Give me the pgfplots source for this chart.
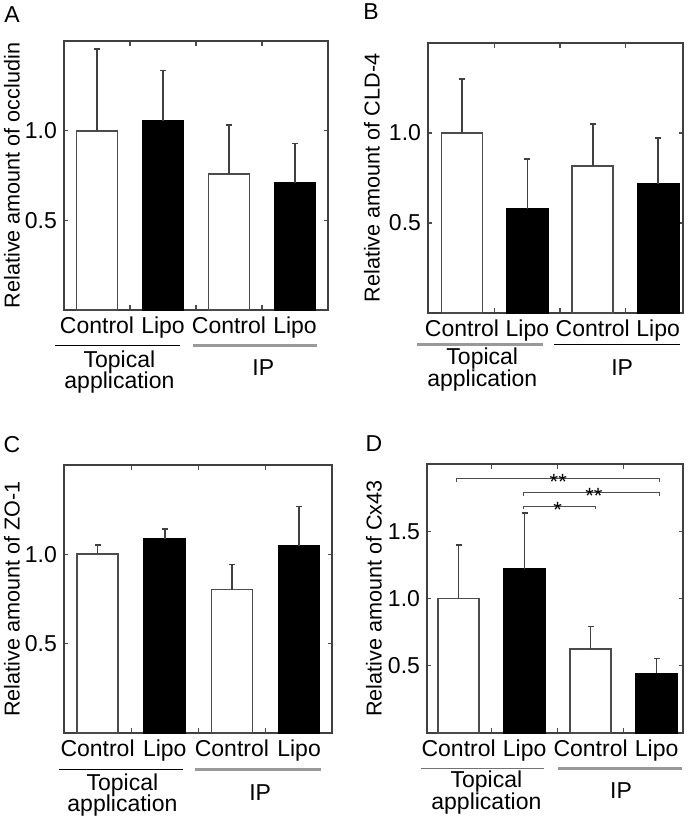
\documentclass[border=0pt]{standalone}
\usepackage{fontspec}
\setmainfont{Liberation Sans}
\usepackage{pgfplots}
\pgfplotsset{compat=1.18}

\pgfplotsset{
  panel/.style={
    scale only axis, anchor=south west,
    ybar, bar shift=0pt, bar width=20.5pt,
    ymin=0, ymax=1.5,
    ytick={0.5,1.0},
    xtick={0,1,2,3},
    xticklabels={Control,Lipo,Control,Lipo},
    minor xtick={0.5,1.5,2.5},
    major x tick style={draw=none},
    tick align=inside,
    major tick length=2pt, minor tick length=2.5pt,
    tick style={black!70, line width=0.6pt},
    axis line style={black!75, line width=0.8pt},
    tick label style={font=\fontsize{11.5}{13}\selectfont},
    y tick label style={/pgf/number format/.cd, fixed, fixed zerofill, precision=1, assume math mode=true, /tikz/.cd},
    label style={font=\fontsize{10.8}{13}\selectfont},
    clip=false,
  },
  ctrl/.style={fill=white, draw=black!70, line width=0.9pt,
    error bars/.cd, y dir=plus, y explicit,
    error bar style={black!75, line width=0.8pt},
    error mark options={rotate=90, black!75, line width=0.8pt, mark size=1.5pt}},
  lipo/.style={fill=black, draw=black, line width=0.9pt,
    error bars/.cd, y dir=plus, y explicit,
    error bar style={black!75, line width=0.8pt},
    error mark options={rotate=90, black!75, line width=0.8pt, mark size=1.5pt}},
}
\tikzset{grp/.style={font=\fontsize{11.5}{10.75}\selectfont, align=center, inner sep=0pt},
  star/.style={font=\fontsize{11}{11}\selectfont, anchor=base, inner sep=0pt}}

\begin{document}
\begin{tikzpicture}
\path[use as bounding box] (0,0) rectangle (346.5pt,412.5pt);

% A
\begin{axis}[panel, at={(32pt,257.5pt)}, width=132pt, height=134.5pt,
  xmin=-0.5, xmax=3.5,
  ylabel={Relative amount of occludin},
  ylabel style={at={([xshift=-26pt]axis description cs:0,0.5)}, anchor=center}]
\addplot[ctrl] coordinates {(0,1.000) +- (0,0.456) (2,0.758) +- (0,0.274)};
\addplot[lipo] coordinates {(1,1.056) +- (0,0.280) (3,0.707) +- (0,0.222)};
\draw[black, line width=0.5pt] ([yshift=-17.8pt]axis cs:-0.64,0) -- ([yshift=-17.8pt]axis cs:1.26,0);
\draw[black!40, line width=1.5pt] ([yshift=-17.8pt]axis cs:1.45,0) -- ([yshift=-17.8pt]axis cs:3.33,0);
\node[grp] at ([yshift=-31pt]axis cs:0.34,0) {Topical\\application};
\node[grp] at ([yshift=-29pt]axis cs:2.52,0) {IP};
\end{axis}

% B
\begin{axis}[panel, at={(214pt,256pt)}, width=127.5pt, height=135pt,
  xmin=-0.52, xmax=3.38,
  ylabel={Relative amount of CLD-4},
  ylabel style={at={([xshift=-28pt]axis description cs:0,0.5)}, anchor=center}]
\addplot[ctrl] coordinates {(0,1.000) +- (0,0.300) (2,0.815) +- (0,0.235)};
\addplot[lipo] coordinates {(1,0.578) +- (0,0.278) (3,0.717) +- (0,0.255)};
\draw[black!40, line width=1.5pt] ([yshift=-15.8pt]axis cs:-0.69,0) -- ([yshift=-15.8pt]axis cs:1.24,0);
\draw[black, line width=0.5pt] ([yshift=-15.8pt]axis cs:1.41,0) -- ([yshift=-15.8pt]axis cs:3.34,0);
\node[grp] at ([yshift=-28.3pt]axis cs:0.31,0) {Topical\\application};
\node[grp] at ([yshift=-27.3pt]axis cs:2.45,0) {IP};
\end{axis}

% C
\begin{axis}[panel, at={(32pt,46pt)}, width=134pt, height=134pt,
  xmin=-0.5, xmax=3.49,
  ylabel={Relative amount of ZO-1},
  ylabel style={at={([xshift=-26pt]axis description cs:0,0.5)}, anchor=center}]
\addplot[ctrl] coordinates {(0,1.000) +- (0,0.052) (2,0.803) +- (0,0.141)};
\addplot[lipo] coordinates {(1,1.084) +- (0,0.058) (3,1.048) +- (0,0.219)};
\draw[black, line width=0.5pt] ([yshift=-18pt]axis cs:-0.58,0) -- ([yshift=-18pt]axis cs:1.27,0);
\draw[black!40, line width=1.5pt] ([yshift=-18pt]axis cs:1.45,0) -- ([yshift=-18pt]axis cs:3.32,0);
\node[grp] at ([yshift=-31pt]axis cs:0.37,0) {Topical\\application};
\node[grp] at ([yshift=-29.9pt]axis cs:2.42,0) {IP};
\end{axis}

% D
\begin{axis}[panel, at={(213.5pt,46pt)}, width=128pt, height=134.5pt,
  xmin=-0.48, xmax=3.4, ymax=2.0,
  ytick={0.5,1.0,1.5},
  ylabel={Relative amount of Cx43},
  ylabel style={at={([xshift=-26.5pt]axis description cs:0,0.5)}, anchor=center}]
\addplot[ctrl] coordinates {(0,1.000) +- (0,0.396) (2,0.622) +- (0,0.169)};
\addplot[lipo] coordinates {(1,1.222) +- (0,0.415) (3,0.443) +- (0,0.112)};
\draw[black!70, line width=0.5pt] (axis cs:-0.03,1.869) -- (axis cs:-0.03,1.894) -- (axis cs:3.05,1.894) -- (axis cs:3.05,1.869);
\draw[black!70, line width=0.5pt] (axis cs:0.98,1.762) -- (axis cs:0.98,1.787) -- (axis cs:3.05,1.787) -- (axis cs:3.05,1.762);
\draw[black!70, line width=0.5pt] (axis cs:0.98,1.662) -- (axis cs:0.98,1.687) -- (axis cs:2.08,1.687) -- (axis cs:2.08,1.662);
\node[star] at ([yshift=-5.5pt]axis cs:1.51,1.894) {**};
\node[star] at ([yshift=-5.5pt]axis cs:2.05,1.787) {**};
\node[star] at ([yshift=-5.5pt]axis cs:1.50,1.687) {*};
\draw[black!55, line width=0.7pt] ([yshift=-17.8pt]axis cs:-0.57,0) -- ([yshift=-17.8pt]axis cs:1.30,0);
\draw[black!40, line width=1.5pt] ([yshift=-17.8pt]axis cs:1.50,0) -- ([yshift=-17.8pt]axis cs:3.39,0);
\node[grp] at ([yshift=-29.9pt]axis cs:0.42,0) {Topical\\application};
\node[grp] at ([yshift=-28.7pt]axis cs:2.46,0) {IP};
\end{axis}

\node[font=\fontsize{11.5}{13}\selectfont] at (6pt,405pt) {A};
\node[font=\fontsize{11.5}{13}\selectfont] at (185.5pt,406.5pt) {B};
\node[font=\fontsize{11.5}{13}\selectfont] at (6pt,190pt) {C};
\node[font=\fontsize{11.5}{13}\selectfont] at (187pt,190.5pt) {D};
\end{tikzpicture}
\end{document}
